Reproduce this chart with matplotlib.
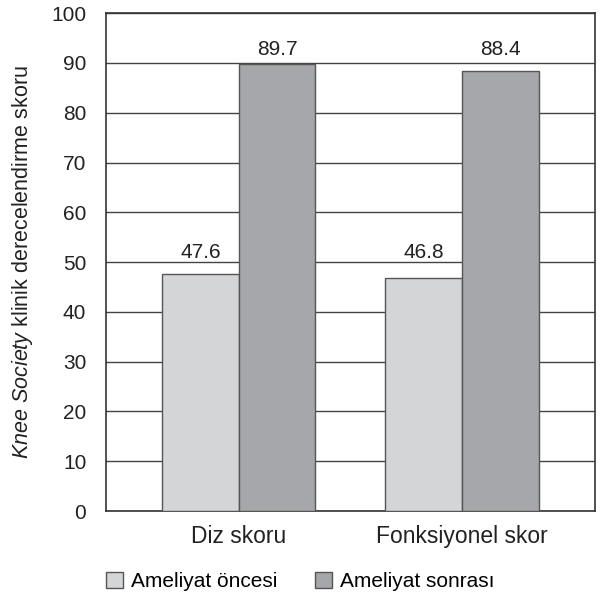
import numpy as np
import matplotlib.pyplot as plt

categories = ['Diz skoru', 'Fonksiyonel skor']
oncesi = [47.6, 46.8]
sonrasi = [89.7, 88.4]
series_names = ['Ameliyat öncesi', 'Ameliyat sonrası']
yticks = list(range(0, 101, 10))

plt.rcParams['font.family'] = ['Liberation Sans', 'DejaVu Sans']
plt.rcParams['mathtext.fontset'] = 'custom'
plt.rcParams['mathtext.it'] = 'Liberation Sans:italic'
plt.rcParams['mathtext.rm'] = 'Liberation Sans'

fig = plt.figure(figsize=(6.01, 5.97), dpi=100)
ax = fig.add_axes([0.176, 0.144, 0.814, 0.834])

x = np.arange(len(categories))
w = 0.343
b1 = ax.bar(x - w / 2, oncesi, w, color='#d4d5d7', edgecolor='#555555', linewidth=1, label=series_names[0], zorder=3)
b2 = ax.bar(x + w / 2, sonrasi, w, color='#a6a7aa', edgecolor='#555555', linewidth=1, label=series_names[1], zorder=3)

# value labels sit at a common height per series (as in the original)
for bars, vals, off in ((b1, oncesi, 11.5), (b2, sonrasi, 6.5)):
    top = max(vals)
    for r, v in zip(bars, vals):
        ax.annotate(f"{v:.1f}", (r.get_x() + r.get_width() / 2, top),
                    xytext=(0, off), textcoords='offset points', ha='center', va='baseline',
                    fontsize=15, color='#222222')

ax.set_xlim(-0.596, 1.596)
ax.set_ylim(0, 100)
ax.set_yticks(yticks)
ax.set_xticks(x)
ax.set_xticklabels(categories, fontsize=16.5, color='#222222')
ax.tick_params(axis='y', length=0, pad=14, labelsize=15, labelcolor='#222222')
ax.tick_params(axis='x', length=0, pad=10)
ax.yaxis.grid(True, color='#444444', linewidth=1, zorder=0)
ax.set_axisbelow(True)
for s in ax.spines.values():
    s.set_color('#333333')
    s.set_linewidth(1.2)

ax.set_ylabel(r"$\it{Knee\ Society}$ klinik derecelendirme skoru", fontsize=15.5, color='#222222', labelpad=12)

fig.legend(handles=[b1, b2], loc='lower center', bbox_to_anchor=(0.5, -0.022), ncol=2, frameon=False,
           fontsize=15, handlelength=0.8, handleheight=0.8, handletextpad=0.4, columnspacing=1.8)

fig.savefig('out.png', dpi=100)
